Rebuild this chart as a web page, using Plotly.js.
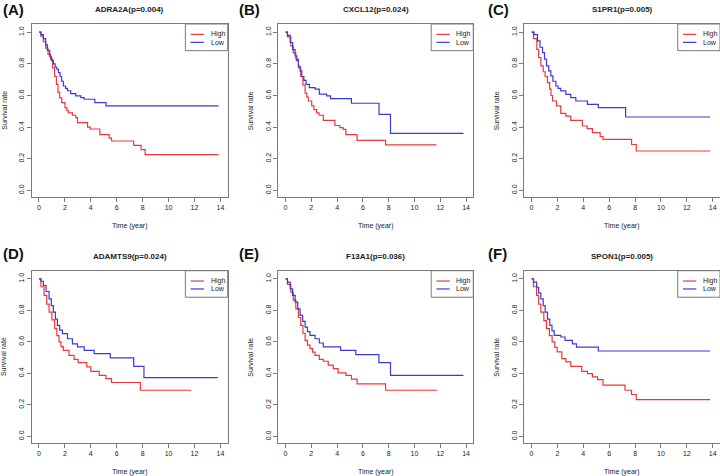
<!DOCTYPE html>
<html>
<head>
<meta charset="utf-8">
<script src="https://cdn.plot.ly/plotly-3.0.1.min.js"></script>
<style>
html,body{margin:0;padding:0;background:#fff;}
#chart{width:720px;height:476px;}
</style>
</head>
<body>
<div id="chart"></div>
<script>
// ---------- data ----------
const genes = ["ADRA2A", "CXCL12", "S1PR1", "ADAMTS9", "F13A1", "SPON1"];
const pValues = ["0.004", "0.024", "0.005", "0.024", "0.036", "0.005"];
const panelLabels = ["(A)", "(B)", "(C)", "(D)", "(E)", "(F)"];
const groupNames = ["High", "Low"];
const xTicks = [0, 2, 4, 6, 8, 10, 12, 14];
const yTicks = [0, 0.2, 0.4, 0.6, 0.8, 1.0];
const xTitle = "Time (year)";
const yTitle = "Survival rate";

// ADRA2A
const adra2aHighTime = [0, 0.15, 0.34, 0.52, 0.7, 0.9, 1.05, 1.21, 1.35, 1.47, 1.6, 1.76, 2.01, 2.15, 2.27, 2.58, 2.84, 2.97, 3.75, 3.95, 4.7, 5.42, 5.6, 7.31, 7.88, 8.19, 13.85];
const adra2aHighSurv = [1, 0.975, 0.94, 0.9, 0.86, 0.83, 0.775, 0.72, 0.67, 0.62, 0.585, 0.555, 0.523, 0.505, 0.49, 0.475, 0.46, 0.428, 0.4, 0.388, 0.352, 0.33, 0.312, 0.285, 0.258, 0.226, 0.226];
const adra2aLowTime = [0, 0.15, 0.34, 0.52, 0.65, 0.83, 0.97, 1.11, 1.25, 1.37, 1.5, 1.63, 1.75, 1.88, 2.05, 2.2, 2.45, 2.84, 3.23, 3.49, 4.31, 5.17, 13.85];
const adra2aLowSurv = [1, 0.985, 0.96, 0.92, 0.885, 0.845, 0.82, 0.8, 0.78, 0.766, 0.745, 0.72, 0.69, 0.66, 0.645, 0.63, 0.612, 0.597, 0.586, 0.576, 0.555, 0.534, 0.534];

// CXCL12
const cxcl12HighTime = [0, 0.15, 0.41, 0.6, 0.8, 1.0, 1.18, 1.35, 1.52, 1.65, 1.77, 2.03, 2.2, 2.41, 2.6, 2.93, 3.83, 4.21, 4.47, 4.68, 5.55, 7.76, 11.7];
const cxcl12HighSurv = [1, 0.97, 0.913, 0.87, 0.83, 0.775, 0.72, 0.665, 0.615, 0.59, 0.565, 0.534, 0.51, 0.49, 0.475, 0.443, 0.41, 0.397, 0.386, 0.352, 0.316, 0.288, 0.288];
const cxcl12LowTime = [0, 0.15, 0.36, 0.55, 0.74, 0.87, 1.0, 1.13, 1.26, 1.42, 1.59, 1.85, 2.29, 2.62, 3.19, 3.49, 5.11, 7.25, 8.14, 13.8];
const cxcl12LowSurv = [1, 0.98, 0.935, 0.89, 0.85, 0.82, 0.786, 0.755, 0.72, 0.695, 0.67, 0.65, 0.64, 0.608, 0.597, 0.58, 0.551, 0.481, 0.36, 0.36];

// S1PR1
const s1pr1HighTime = [0, 0.15, 0.41, 0.55, 0.72, 0.9, 1.05, 1.23, 1.4, 1.5, 1.62, 1.93, 2.26, 2.65, 3.03, 3.93, 4.3, 4.7, 5.3, 5.52, 7.73, 8.09, 13.8];
const s1pr1HighSurv = [1, 0.96, 0.892, 0.84, 0.787, 0.75, 0.72, 0.681, 0.64, 0.6, 0.565, 0.534, 0.487, 0.47, 0.443, 0.407, 0.39, 0.365, 0.34, 0.323, 0.29, 0.249, 0.249];
const s1pr1LowTime = [0, 0.2, 0.46, 0.65, 0.85, 1.0, 1.16, 1.33, 1.49, 1.65, 1.88, 2.05, 2.26, 2.65, 3.03, 3.42, 4.32, 5.16, 7.27, 13.8];
const s1pr1LowSurv = [1, 0.985, 0.945, 0.905, 0.871, 0.83, 0.787, 0.755, 0.724, 0.69, 0.66, 0.645, 0.629, 0.607, 0.586, 0.565, 0.544, 0.523, 0.464, 0.464];

// ADAMTS9
const adamts9HighTime = [0, 0.15, 0.39, 0.6, 0.78, 1.0, 1.21, 1.38, 1.55, 1.7, 1.88, 2.32, 2.71, 3.02, 3.69, 4.0, 4.65, 5.17, 5.6, 7.83, 11.75];
const adamts9HighSurv = [1, 0.95, 0.895, 0.84, 0.789, 0.74, 0.684, 0.64, 0.6, 0.57, 0.546, 0.515, 0.489, 0.468, 0.441, 0.413, 0.388, 0.367, 0.342, 0.293, 0.293];
const adamts9LowTime = [0, 0.15, 0.34, 0.55, 0.78, 0.95, 1.11, 1.27, 1.42, 1.6, 1.81, 2.2, 2.58, 2.97, 3.49, 4.26, 5.5, 7.31, 8.1, 13.8];
const adamts9LowSurv = [1, 0.985, 0.958, 0.92, 0.873, 0.83, 0.789, 0.745, 0.705, 0.675, 0.652, 0.62, 0.588, 0.568, 0.546, 0.525, 0.498, 0.445, 0.373, 0.373];

// F13A1
const f13a1HighTime = [0, 0.15, 0.41, 0.6, 0.8, 1.0, 1.18, 1.35, 1.52, 1.7, 1.9, 2.1, 2.29, 2.62, 2.93, 3.31, 3.7, 4.08, 4.68, 5.11, 5.55, 7.76, 11.75];
const f13a1HighSurv = [1, 0.965, 0.916, 0.865, 0.81, 0.755, 0.705, 0.655, 0.61, 0.58, 0.557, 0.535, 0.515, 0.489, 0.477, 0.452, 0.43, 0.403, 0.388, 0.363, 0.333, 0.293, 0.293];
const f13a1LowTime = [0, 0.15, 0.36, 0.55, 0.75, 0.95, 1.13, 1.33, 1.52, 1.7, 1.9, 2.29, 2.62, 2.93, 4.27, 5.45, 7.24, 8.14, 13.8];
const f13a1LowSurv = [1, 0.98, 0.937, 0.895, 0.852, 0.81, 0.768, 0.73, 0.694, 0.665, 0.641, 0.62, 0.593, 0.568, 0.546, 0.519, 0.468, 0.388, 0.388];

// SPON1
const spon1HighTime = [0, 0.15, 0.39, 0.55, 0.72, 0.95, 1.16, 1.38, 1.59, 1.8, 1.98, 2.34, 2.65, 3.03, 3.88, 4.32, 4.7, 5.1, 5.52, 7.22, 7.73, 8.09, 13.8];
const spon1HighSurv = [1, 0.95, 0.895, 0.84, 0.789, 0.735, 0.684, 0.64, 0.6, 0.565, 0.536, 0.494, 0.473, 0.445, 0.413, 0.399, 0.378, 0.36, 0.325, 0.293, 0.266, 0.234, 0.234];
const spon1LowTime = [0, 0.15, 0.39, 0.55, 0.72, 0.9, 1.05, 1.23, 1.41, 1.58, 1.75, 2.26, 2.59, 3.16, 3.47, 5.16, 13.8];
const spon1LowSurv = [1, 0.98, 0.947, 0.91, 0.873, 0.83, 0.789, 0.745, 0.705, 0.67, 0.641, 0.631, 0.61, 0.588, 0.567, 0.542, 0.542];

const highTimes = [adra2aHighTime, cxcl12HighTime, s1pr1HighTime, adamts9HighTime, f13a1HighTime, spon1HighTime];
const highSurvs = [adra2aHighSurv, cxcl12HighSurv, s1pr1HighSurv, adamts9HighSurv, f13a1HighSurv, spon1HighSurv];
const lowTimes = [adra2aLowTime, cxcl12LowTime, s1pr1LowTime, adamts9LowTime, f13a1LowTime, spon1LowTime];
const lowSurvs = [adra2aLowSurv, cxcl12LowSurv, s1pr1LowSurv, adamts9LowSurv, f13a1LowSurv, spon1LowSurv];

// ---------- layout ----------
const W = 720, H = 476;
const colPx = [[31.7, 227.7], [278.3, 473.3], [524.3, 720]];
const rowPx = [[24, 197], [270.7, 443]];
const labelX = [1, 237, 486];
const labelY = [9.5, 253.5];
const RED = "#e8383d", BLUE = "#3b3bd0", BOX = "#7a7a7a", TXT = "#222";
const FONT = "Liberation Sans, Arial, Helvetica, sans-serif";

const traces = [];
const shapes = [];
const annotations = [];
const layout = {
  width: W, height: H,
  margin: {l: 0, r: 0, t: 0, b: 0},
  paper_bgcolor: "#fff", plot_bgcolor: "#fff",
  showlegend: false,
  font: {family: FONT, size: 7, color: TXT}
};

for (let i = 0; i < 6; i++) {
  const col = i % 3, row = Math.floor(i / 3);
  const sfx = i === 0 ? "" : String(i + 1);
  const xa = "x" + sfx, ya = "y" + sfx;
  const [l, r] = colPx[col];
  const [t, b] = rowPx[row];
  const xd = [l / W, r / W];
  const yd = [1 - b / H, 1 - t / H];
  const axCommon = {
    showgrid: false, zeroline: false, showline: true, mirror: true,
    linecolor: BOX, linewidth: 1, ticks: "outside", ticklen: 4,
    tickcolor: BOX, tickwidth: 1, tickfont: {family: FONT, size: 7, color: TXT},
    fixedrange: true
  };
  layout["xaxis" + sfx] = Object.assign({}, axCommon, {
    domain: xd, anchor: ya, range: [-0.56, 14.56],
    tickmode: "array", tickvals: xTicks
  });
  layout["yaxis" + sfx] = Object.assign({}, axCommon, {
    domain: yd, anchor: xa, range: [-0.042, 1.052],
    tickmode: "array", tickvals: yTicks,
    ticktext: yTicks.map(v => v.toFixed(1)), tickangle: -90
  });

  traces.push({
    type: "scatter", mode: "lines", name: groupNames[0],
    x: highTimes[i], y: highSurvs[i], xaxis: xa, yaxis: ya,
    line: {shape: "hv", color: RED, width: 1.2}, hoverinfo: "x+y"
  });
  traces.push({
    type: "scatter", mode: "lines", name: groupNames[1],
    x: lowTimes[i], y: lowSurvs[i], xaxis: xa, yaxis: ya,
    line: {shape: "hv", color: BLUE, width: 1.2}, hoverinfo: "x+y"
  });

  const cx = (l + r) / 2 / W;
  // gene title
  annotations.push({
    text: "<b>" + genes[i] + "(p=" + pValues[i] + ")</b>",
    xref: "paper", yref: "paper", x: cx, y: 1 - (t - 14.5) / H,
    xanchor: "center", yanchor: "middle", showarrow: false,
    font: {family: FONT, size: 8, color: TXT}
  });
  // panel label
  annotations.push({
    text: "<b>" + panelLabels[i] + "</b>",
    xref: "paper", yref: "paper", x: labelX[col] / W, y: 1 - labelY[row] / H,
    xanchor: "left", yanchor: "middle", showarrow: false,
    font: {family: FONT, size: 15, color: "#111"}
  });
  // axis titles
  annotations.push({
    text: xTitle, xref: "paper", yref: "paper", x: cx, y: 1 - (b + 28.5) / H,
    xanchor: "center", yanchor: "middle", showarrow: false,
    font: {family: FONT, size: 7, color: TXT}
  });
  annotations.push({
    text: yTitle, xref: "paper", yref: "paper", x: (l - 27.5) / W, y: 1 - (t + b) / 2 / H,
    xanchor: "center", yanchor: "middle", showarrow: false, textangle: -90,
    font: {family: FONT, size: 7, color: TXT}
  });

  // legend box (top-right of panel)
  const xdRef = xa + " domain", ydRef = ya + " domain";
  shapes.push({
    type: "rect", xref: xdRef, yref: ydRef, x0: 0.784, x1: 1.0, y0: 0.846, y1: 1.0,
    line: {color: BOX, width: 1}, fillcolor: "rgba(255,255,255,0)"
  });
  const legY = [0.94, 0.894];
  const legC = [RED, BLUE];
  for (let k = 0; k < 2; k++) {
    shapes.push({
      type: "line", xref: xdRef, yref: ydRef, x0: 0.811, x1: 0.879, y0: legY[k], y1: legY[k],
      line: {color: legC[k], width: 1.2}
    });
    annotations.push({
      text: groupNames[k], xref: xdRef, yref: ydRef, x: 0.903, y: legY[k],
      xanchor: "left", yanchor: "middle", showarrow: false,
      font: {family: FONT, size: 7, color: TXT}
    });
  }
}
layout.shapes = shapes;
layout.annotations = annotations;

Plotly.newPlot("chart", traces, layout, {displayModeBar: false, staticPlot: true});
</script>
</body>
</html>
